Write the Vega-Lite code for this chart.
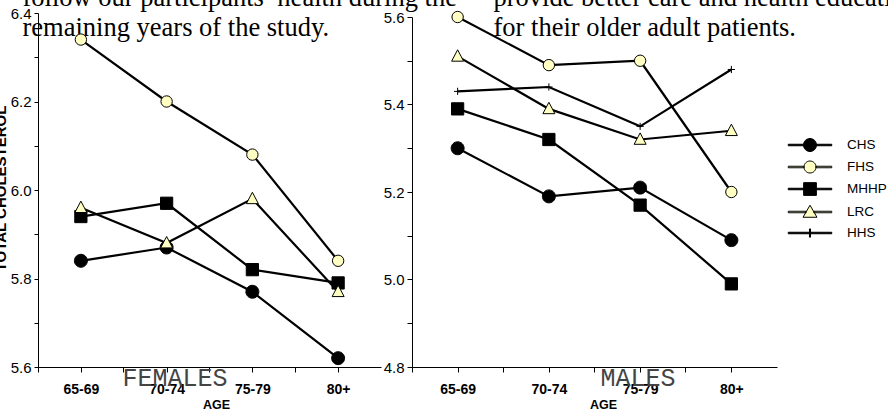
{
  "$schema": "https://vega.github.io/schema/vega-lite/v6.json",
  "width": 850,
  "height": 354,
  "autosize": {"type": "none"},
  "padding": {"left": 38, "top": 13, "right": 0, "bottom": 46},
  "background": "white",
  "config": {
    "view": {"stroke": null},
    "axis": {"grid": false, "domainColor": "black", "tickColor": "black", "labelColor": "black", "titleColor": "black", "labelOverlap": false, "labelBound": false, "labelFlush": false}
  },
  "data": {
    "values": [
      {"sex": "FEMALES", "study": "CHS", "age": "65-69", "chol": 5.84},
      {"sex": "FEMALES", "study": "CHS", "age": "70-74", "chol": 5.87},
      {"sex": "FEMALES", "study": "CHS", "age": "75-79", "chol": 5.77},
      {"sex": "FEMALES", "study": "CHS", "age": "80+", "chol": 5.62},
      {"sex": "FEMALES", "study": "FHS", "age": "65-69", "chol": 6.34},
      {"sex": "FEMALES", "study": "FHS", "age": "70-74", "chol": 6.20},
      {"sex": "FEMALES", "study": "FHS", "age": "75-79", "chol": 6.08},
      {"sex": "FEMALES", "study": "FHS", "age": "80+", "chol": 5.84},
      {"sex": "FEMALES", "study": "MHHP", "age": "65-69", "chol": 5.94},
      {"sex": "FEMALES", "study": "MHHP", "age": "70-74", "chol": 5.97},
      {"sex": "FEMALES", "study": "MHHP", "age": "75-79", "chol": 5.82},
      {"sex": "FEMALES", "study": "MHHP", "age": "80+", "chol": 5.79},
      {"sex": "FEMALES", "study": "LRC", "age": "65-69", "chol": 5.96},
      {"sex": "FEMALES", "study": "LRC", "age": "70-74", "chol": 5.88},
      {"sex": "FEMALES", "study": "LRC", "age": "75-79", "chol": 5.98},
      {"sex": "FEMALES", "study": "LRC", "age": "80+", "chol": 5.77},
      {"sex": "MALES", "study": "CHS", "age": "65-69", "chol": 5.30},
      {"sex": "MALES", "study": "CHS", "age": "70-74", "chol": 5.19},
      {"sex": "MALES", "study": "CHS", "age": "75-79", "chol": 5.21},
      {"sex": "MALES", "study": "CHS", "age": "80+", "chol": 5.09},
      {"sex": "MALES", "study": "FHS", "age": "65-69", "chol": 5.60},
      {"sex": "MALES", "study": "FHS", "age": "70-74", "chol": 5.49},
      {"sex": "MALES", "study": "FHS", "age": "75-79", "chol": 5.50},
      {"sex": "MALES", "study": "FHS", "age": "80+", "chol": 5.20},
      {"sex": "MALES", "study": "MHHP", "age": "65-69", "chol": 5.39},
      {"sex": "MALES", "study": "MHHP", "age": "70-74", "chol": 5.32},
      {"sex": "MALES", "study": "MHHP", "age": "75-79", "chol": 5.17},
      {"sex": "MALES", "study": "MHHP", "age": "80+", "chol": 4.99},
      {"sex": "MALES", "study": "LRC", "age": "65-69", "chol": 5.51},
      {"sex": "MALES", "study": "LRC", "age": "70-74", "chol": 5.39},
      {"sex": "MALES", "study": "LRC", "age": "75-79", "chol": 5.32},
      {"sex": "MALES", "study": "LRC", "age": "80+", "chol": 5.34},
      {"sex": "MALES", "study": "HHS", "age": "65-69", "chol": 5.43},
      {"sex": "MALES", "study": "HHS", "age": "70-74", "chol": 5.44},
      {"sex": "MALES", "study": "HHS", "age": "75-79", "chol": 5.35},
      {"sex": "MALES", "study": "HHS", "age": "80+", "chol": 5.48}
    ]
  },
  "resolve": {"scale": {"x": "independent", "y": "independent"}, "axis": {"x": "independent", "y": "independent"}},
  "layer": [
    {
      "transform": [{"filter": "datum.sex === 'FEMALES'"}],
      "mark": {"type": "line", "color": "black", "strokeWidth": 2.2},
      "encoding": {
        "x": {"field": "age", "type": "ordinal",
          "scale": {"type": "point", "domain": ["65-69", "70-74", "75-79", "80+"], "range": [0, 343], "padding": 0.5},
          "axis": {"orient": "bottom", "labelAngle": 0, "labelFont": "Liberation Sans", "labelFontWeight": "bold", "labelFontSize": 14, "labelPadding": 10, "tickSize": 5, "domain": true, "ticks": true,
            "title": "AGE", "titleFont": "Liberation Sans", "titleFontSize": 12.5, "titleFontWeight": "bold", "titleX": 178, "titleY": 41, "titleBaseline": "alphabetic", "titleAlign": "center"}},
        "y": {"field": "chol", "type": "quantitative",
          "scale": {"domain": [5.6, 6.4], "range": [354, 0], "zero": false, "nice": false},
          "axis": {"orient": "left", "values": [5.6, 5.7, 5.8, 5.9, 6.0, 6.1, 6.2, 6.3, 6.4], "labelExpr": "round(datum.value*10) % 2 === 0 ? format(datum.value, '.1f') : ''", "tickSize": 4, "labelPadding": 3, "labelFont": "Liberation Sans", "labelFontSize": 15,
            "title": "TOTAL CHOLESTEROL", "titleFont": "Liberation Sans", "titleFontSize": 15, "titleFontWeight": "bold", "titleAngle": 270, "titleX": -33, "titleY": 175, "titleBaseline": "alphabetic", "titleAlign": "center"}},
        "detail": {"field": "study"}
      }
    },
    {
      "transform": [{"filter": "datum.sex === 'FEMALES'"}],
      "mark": {"type": "point", "filled": true, "stroke": "black", "strokeWidth": 1, "opacity": 1, "size": 144},
      "encoding": {
        "x": {"field": "age", "type": "ordinal",
          "scale": {"type": "band", "domain": ["65-69", "70-74", "75-79", "80+"], "range": [0, 343], "paddingInner": 0, "paddingOuter": 0},
          "axis": {"orient": "bottom", "bandPosition": 0, "domain": false, "labels": false, "ticks": true, "tickSize": 5,
            "title": "FEMALES", "titleFont": "Liberation Mono", "titleFontSize": 25, "titleFontWeight": "normal", "titleColor": "#444", "titleX": 84, "titleY": 18, "titleBaseline": "alphabetic", "titleAlign": "left"}},
        "y": {"field": "chol", "type": "quantitative",
          "scale": {"domain": [5.6, 6.4], "range": [354, 0], "zero": false, "nice": false},
          "axis": {"orient": "left", "domain": false, "ticks": false, "labels": false,
            "title": ["follow our participants’ health during the", "remaining years of the study."], "titleFont": "Liberation Serif", "titleFontSize": 26.5, "titleFontWeight": "normal", "titleAngle": 0, "titleAlign": "left", "titleBaseline": "alphabetic", "titleX": -16, "titleY": -8, "titleLineHeight": 30}},
        "shape": {"condition": [
            {"test": "datum.study === 'CHS'", "value": "M-1.08,0A1.08,1.08 0 1,0 1.08,0A1.08,1.08 0 1,0 -1.08,0Z"},
            {"test": "datum.study === 'FHS'", "value": "M-0.95,0A0.95,0.95 0 1,0 0.95,0A0.95,0.95 0 1,0 -0.95,0Z"},
            {"test": "datum.study === 'MHHP'", "value": "M-1.02,-1.02H1.02V1.02H-1.02Z"},
            {"test": "datum.study === 'LRC'", "value": "M0,-1.1L1.0,0.8L-1.0,0.8Z"}],
          "value": "M-0.6,0H0.6M0,-0.6V0.6"},
        "fill": {"field": "study", "type": "nominal",
          "scale": {"domain": ["CHS", "FHS", "MHHP", "LRC", "HHS"], "range": ["black", "#FFFFC4", "black", "#FFFFC4", "black"]}}
      }
    },
    {
      "transform": [{"filter": "datum.sex === 'MALES'"}],
      "mark": {"type": "line", "color": "black", "strokeWidth": 2.2},
      "encoding": {
        "x": {"field": "age", "type": "ordinal",
          "scale": {"type": "point", "domain": ["65-69", "70-74", "75-79", "80+"], "range": [374, 739], "padding": 0.5},
          "axis": {"orient": "bottom", "labelAngle": 0, "labelFont": "Liberation Sans", "labelFontWeight": "bold", "labelFontSize": 14, "labelPadding": 10, "tickSize": 5, "domain": true, "ticks": true,
            "title": "AGE", "titleFont": "Liberation Sans", "titleFontSize": 12.5, "titleFontWeight": "bold", "titleX": 565, "titleY": 41, "titleBaseline": "alphabetic", "titleAlign": "center"}},
        "y": {"field": "chol", "type": "quantitative",
          "scale": {"domain": [4.8, 5.6], "range": [354, 4], "zero": false, "nice": false},
          "axis": {"orient": "left", "offset": -374, "values": [4.8, 4.9, 5.0, 5.1, 5.2, 5.3, 5.4, 5.5, 5.6], "labelExpr": "round(datum.value*10) % 2 === 0 ? format(datum.value, '.1f') : ''", "tickSize": 5, "labelPadding": 3, "labelFont": "Liberation Sans", "labelFontSize": 15, "title": null}},
        "detail": {"field": "study"}
      }
    },
    {
      "transform": [{"filter": "datum.sex === 'MALES'"}],
      "mark": {"type": "point", "filled": true, "stroke": "black", "strokeWidth": 1, "opacity": 1, "size": 144},
      "encoding": {
        "x": {"field": "age", "type": "ordinal",
          "scale": {"type": "band", "domain": ["65-69", "70-74", "75-79", "80+"], "range": [374, 739], "paddingInner": 0, "paddingOuter": 0},
          "axis": {"orient": "bottom", "bandPosition": 0, "domain": false, "labels": false, "ticks": true, "tickSize": 5,
            "title": "MALES", "titleFont": "Liberation Mono", "titleFontSize": 25, "titleFontWeight": "normal", "titleColor": "#444", "titleX": 562, "titleY": 18, "titleBaseline": "alphabetic", "titleAlign": "left"}},
        "y": {"field": "chol", "type": "quantitative",
          "scale": {"domain": [4.8, 5.6], "range": [354, 4], "zero": false, "nice": false},
          "axis": {"orient": "left", "domain": false, "ticks": false, "labels": false,
            "title": ["provide better care and health education", "for their older adult patients."], "titleFont": "Liberation Serif", "titleFontSize": 26.5, "titleFontWeight": "normal", "titleAngle": 0, "titleAlign": "left", "titleBaseline": "alphabetic", "titleX": 455, "titleY": -8, "titleLineHeight": 30}},
        "shape": {"condition": [
            {"test": "datum.study === 'CHS'", "value": "M-1.08,0A1.08,1.08 0 1,0 1.08,0A1.08,1.08 0 1,0 -1.08,0Z"},
            {"test": "datum.study === 'FHS'", "value": "M-0.95,0A0.95,0.95 0 1,0 0.95,0A0.95,0.95 0 1,0 -0.95,0Z"},
            {"test": "datum.study === 'MHHP'", "value": "M-1.02,-1.02H1.02V1.02H-1.02Z"},
            {"test": "datum.study === 'LRC'", "value": "M0,-1.1L1.0,0.8L-1.0,0.8Z"}],
          "value": "M-0.6,0H0.6M0,-0.6V0.6"},
        "fill": {"field": "study", "type": "nominal"}
      }
    },
    {
      "transform": [{"filter": "datum.sex === 'MALES'"}],
      "mark": {"type": "point", "filled": true, "stroke": "black", "strokeWidth": 1, "opacity": 0, "size": 1},
      "encoding": {
        "x": {"field": "age", "type": "ordinal", "axis": null},
        "y": {"field": "chol", "type": "quantitative", "axis": null},
        "shape": {"field": "study", "type": "nominal",
          "scale": {"domain": ["CHS", "FHS", "MHHP", "LRC", "HHS"], "range": [
            "M-2.9,-0.1H-0.87V0.1H-2.9ZM0.87,-0.1H2.9V0.1H0.87ZM-0.87,0A0.87,0.87 0 1,0 0.87,0A0.87,0.87 0 1,0 -0.87,0Z",
            "M-2.9,-0.1H-0.8V0.1H-2.9ZM0.8,-0.1H2.9V0.1H0.8ZM-0.8,0A0.8,0.8 0 1,0 0.8,0A0.8,0.8 0 1,0 -0.8,0Z",
            "M-2.9,-0.1H-0.85V0.1H-2.9ZM0.85,-0.1H2.9V0.1H0.85ZM-0.85,-0.85H0.85V0.85H-0.85Z",
            "M-2.9,-0.1H-0.52V0.1H-2.9ZM0.52,-0.1H2.9V0.1H0.52ZM0,-0.9L0.93,0.7L-0.93,0.7Z",
            "M-2.9,-0.1H2.9V0.1H-2.9ZM-0.07,-0.55H0.07V0.55H-0.07Z"]},
          "legend": {"orient": "none", "legendX": 764, "legendY": 124, "title": null, "symbolSize": 225, "symbolOpacity": 1, "labelFont": "Liberation Sans", "labelFontSize": 13.5, "labelColor": "black", "labelOffset": 29, "rowPadding": 5, "symbolStrokeWidth": 1, "symbolStrokeColor": "black"}},
        "fill": {"field": "study", "type": "nominal"}
      }
    }
  ]
}
